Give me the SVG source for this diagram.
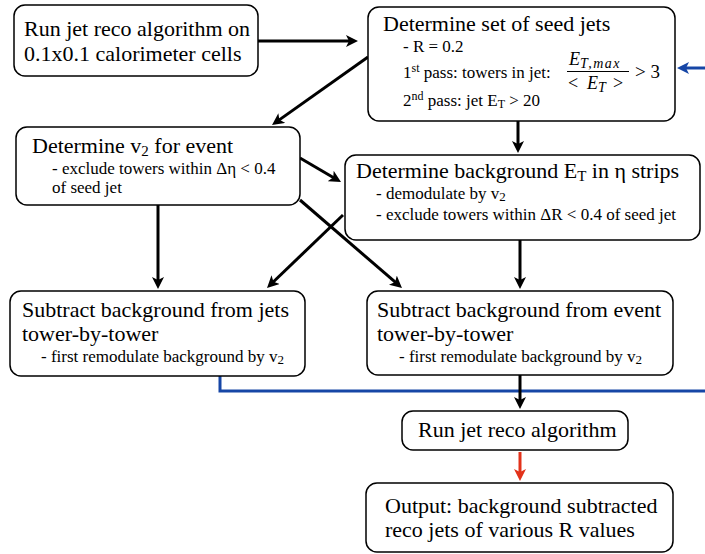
<svg xmlns="http://www.w3.org/2000/svg" width="705" height="554" viewBox="0 0 705 554">
<style>
.box{fill:#fff;stroke:#000;stroke-width:1.5}
.t{font-family:"Liberation Serif","DejaVu Serif","Noto Serif",serif;fill:#000}
.big{font-size:22px}
.sm{font-size:17px}
.c{fill:none;stroke:#000;stroke-width:3}
.blue{fill:none;stroke:#1646a6;stroke-width:3}
.red{fill:none;stroke:#e2321a;stroke-width:3}
.m{font-family:"Liberation Serif","DejaVu Serif","Noto Serif",serif;font-style:italic;font-size:18px}
</style>
<defs>
<marker id="ah" viewBox="0 0 12 12" refX="7" refY="6" markerWidth="12" markerHeight="12" markerUnits="userSpaceOnUse" orient="auto"><path d="M0,0 L12,6 L0,12 L3,6 z" fill="#000"/></marker>
<marker id="ahb" viewBox="0 0 12 12" refX="7" refY="6" markerWidth="12" markerHeight="12" markerUnits="userSpaceOnUse" orient="auto"><path d="M0,0 L12,6 L0,12 L3,6 z" fill="#1646a6"/></marker>
<marker id="ahr" viewBox="0 0 12 12" refX="7" refY="6" markerWidth="12" markerHeight="12" markerUnits="userSpaceOnUse" orient="auto"><path d="M0,0 L12,6 L0,12 L3,6 z" fill="#e2321a"/></marker>
</defs>

<g id="connectors">
<line class="c" x1="258" y1="41" x2="353" y2="41" marker-end="url(#ah)"/>
<line class="c" x1="368" y1="57" x2="276.1" y2="122.1" marker-end="url(#ah)"/>
<line class="c" x1="518" y1="121" x2="518" y2="148" marker-end="url(#ah)"/>
<line class="c" x1="300" y1="158" x2="336.7" y2="179.5" marker-end="url(#ah)"/>
<line class="c" x1="300" y1="200" x2="398.2" y2="284.7" marker-end="url(#ah)"/>
<line class="c" x1="343" y1="215" x2="270.6" y2="284.5" marker-end="url(#ah)"/>
<line class="c" x1="158" y1="205" x2="158" y2="284" marker-end="url(#ah)"/>
<line class="c" x1="520" y1="240" x2="520" y2="284" marker-end="url(#ah)"/>
<polyline class="blue" points="220,376 220,391 706,391"/>
<line class="blue" x1="706" y1="68" x2="682" y2="68" marker-end="url(#ahb)"/>
<line class="c" x1="520" y1="375" x2="520" y2="404" marker-end="url(#ah)"/>
<line class="red" x1="520" y1="452" x2="520" y2="476" marker-end="url(#ahr)"/>
</g>

<g id="n1">
<rect class="box" x="14" y="5" width="244" height="71" rx="11"/>
<text class="t big" x="24" y="36">Run jet reco algorithm on</text>
<text class="t big" x="24" y="61">0.1x0.1 calorimeter cells</text>
</g>

<g id="n2">
<rect class="box" x="368" y="7" width="307" height="114" rx="11"/>
<text class="t big" x="383" y="31">Determine set of seed jets</text>
<text class="t sm" x="403" y="52">- R = 0.2</text>
<text class="t sm" x="403" y="78">1<tspan font-size="12" dy="-6">st</tspan><tspan dy="6"> pass: towers in jet:</tspan></text>
<text class="m" x="569" y="65">E<tspan font-size="14" dy="3" letter-spacing="1.5">T,max</tspan></text>
<line x1="567" y1="71.5" x2="629" y2="71.5" stroke="#000" stroke-width="1"/>
<text class="m" y="89"><tspan x="568" font-style="normal">&lt;</tspan><tspan x="587">E</tspan><tspan font-size="14" dy="3">T</tspan><tspan x="613" font-style="normal" dy="-3">&gt;</tspan></text>
<text class="t" x="635" y="78" font-size="19">&gt; 3</text>
<text class="t sm" x="403" y="106">2<tspan font-size="12" dy="-6">nd</tspan><tspan dy="6"> pass: jet E</tspan><tspan font-size="12" dy="2">T</tspan><tspan dy="-2"> &gt; 20</tspan></text>
</g>

<g id="n3">
<rect class="box" x="16" y="127" width="284" height="78" rx="11"/>
<text class="t big" x="32" y="153">Determine v<tspan font-size="15" dy="3">2</tspan><tspan dy="-3"> for event</tspan></text>
<text class="t sm" x="52" y="174">- exclude towers within Δη &lt; 0.4</text>
<text class="t sm" x="52" y="193">of seed jet</text>
</g>

<g id="n4">
<rect class="box" x="345" y="155" width="355" height="85" rx="11"/>
<text class="t big" x="356" y="178">Determine background E<tspan font-size="15" dy="3">T</tspan><tspan dy="-3"> in η strips</tspan></text>
<text class="t sm" x="376" y="199">- demodulate by v<tspan font-size="13" dy="2">2</tspan></text>
<text class="t sm" x="376" y="220">- exclude towers within ΔR &lt; 0.4 of seed jet</text>
</g>

<g id="n5">
<rect class="box" x="10" y="291" width="295" height="85" rx="11"/>
<text class="t big" x="22" y="317">Subtract background from jets</text>
<text class="t big" x="22" y="341">tower-by-tower</text>
<text class="t sm" x="41" y="362">- first remodulate background by v<tspan font-size="13" dy="2">2</tspan></text>
</g>

<g id="n6">
<rect class="box" x="367" y="291" width="306" height="84" rx="11"/>
<text class="t big" x="377" y="317">Subtract background from event</text>
<text class="t big" x="377" y="341">tower-by-tower</text>
<text class="t sm" x="399" y="362">- first remodulate background by v<tspan font-size="13" dy="2">2</tspan></text>
</g>

<g id="n7">
<rect class="box" x="402" y="411" width="226" height="39" rx="11"/>
<text class="t big" x="418" y="437">Run jet reco algorithm</text>
</g>

<g id="n8">
<rect class="box" x="366" y="483" width="307" height="69" rx="11"/>
<text class="t big" x="385" y="513">Output: background subtracted</text>
<text class="t big" x="385" y="537">reco jets of various R values</text>
</g>
</svg>
